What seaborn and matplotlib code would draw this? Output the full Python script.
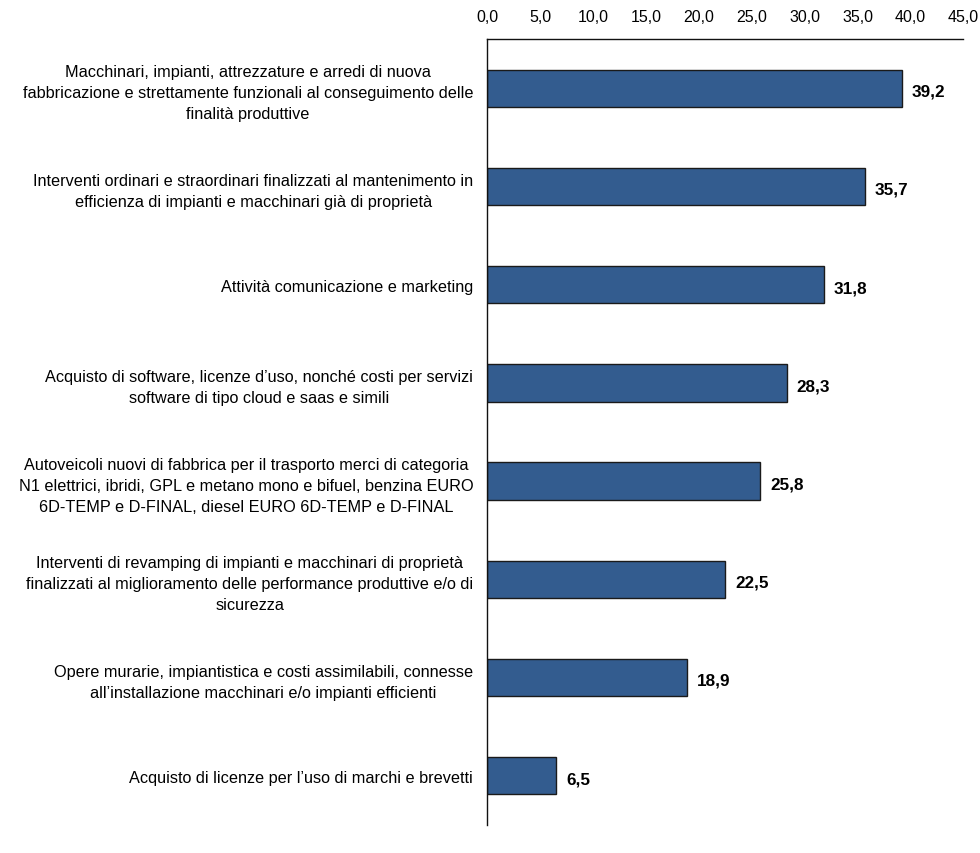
import matplotlib
matplotlib.use("Agg")
import matplotlib.pyplot as plt
import seaborn as sns
import pandas as pd

categories = [
    "Macchinari, impianti, attrezzature e arredi di nuova\nfabbricazione e strettamente funzionali al conseguimento delle\nfinalità produttive",
    "Interventi ordinari e straordinari finalizzati al mantenimento in\nefficienza di impianti e macchinari già di proprietà",
    "Attività comunicazione e marketing",
    "Acquisto di software, licenze d’uso, nonché costi per servizi\nsoftware di tipo cloud e saas e simili",
    "Autoveicoli nuovi di fabbrica per il trasporto merci di categoria\nN1 elettrici, ibridi, GPL e metano mono e bifuel, benzina EURO\n6D-TEMP e D-FINAL, diesel EURO 6D-TEMP e D-FINAL",
    "Interventi di revamping di impianti e macchinari di proprietà\nfinalizzati al miglioramento delle performance produttive e/o di\nsicurezza",
    "Opere murarie, impiantistica e costi assimilabili, connesse\nall’installazione macchinari e/o impianti efficienti",
    "Acquisto di licenze per l’uso di marchi e brevetti",
]
values = [39.2, 35.7, 31.8, 28.3, 25.8, 22.5, 18.9, 6.5]
ticks = [0, 5, 10, 15, 20, 25, 30, 35, 40, 45]

df = pd.DataFrame({"cat": categories, "val": values})

sns.set_theme(style="white")
plt.rcParams["font.family"] = ["Liberation Sans", "DejaVu Sans"]

fig = plt.figure(figsize=(9.8, 8.54), dpi=100)
ax = fig.add_axes([0.497, 0.033, 0.486, 0.920])

sns.barplot(data=df, y="cat", x="val", orient="h", color="#335C8F",
            saturation=1, width=0.38, edgecolor="#1a1a1a", linewidth=1.0, ax=ax)

ax.set_xlim(0, 45)
ax.set_ylim(7.5, -0.5)
ax.xaxis.tick_top()
ax.set_xticks(ticks)
ax.set_xticklabels([f"{t:.1f}".replace(".", ",") for t in ticks], fontsize=11.5, color="#000000")
ax.tick_params(axis="x", length=0, pad=11)
ax.tick_params(axis="y", length=0, pad=10)
ax.set_yticks(range(len(categories)))
ax.set_yticklabels(categories, fontsize=11.7, color="#000000", ha="right",
                   multialignment="center", linespacing=1.5)
ax.set_xlabel("")
ax.set_ylabel("")

for s in ["right", "bottom"]:
    ax.spines[s].set_visible(False)
for s in ["top", "left"]:
    ax.spines[s].set_color("#111111")
    ax.spines[s].set_linewidth(1.0)

for i, v in enumerate(values):
    ax.text(v + 0.95, i + 0.03, f"{v:.1f}".replace(".", ","), va="center", ha="left",
            fontsize=12.3, fontweight="bold", color="#000000")

fig.savefig("out.png", dpi=100)
